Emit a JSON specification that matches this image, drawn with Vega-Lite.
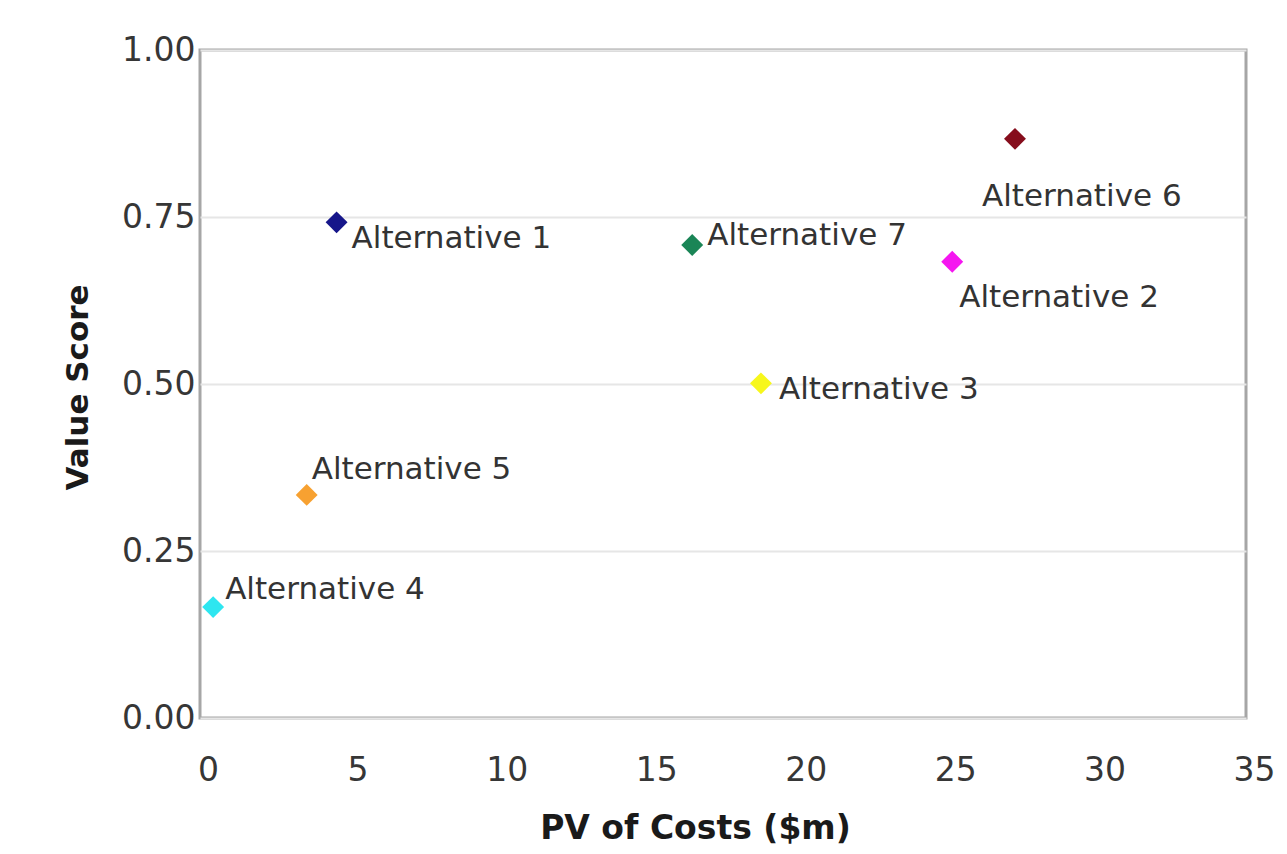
{
  "$schema": "https://vega.github.io/schema/vega-lite/v6.json",
  "autosize": {"type": "none"},
  "width": 1046,
  "height": 668,
  "padding": {"left": 200, "top": 50, "right": 41, "bottom": 136},
  "background": "#ffffff",
  "config": {
    "font": "DejaVu Sans",
    "view": {"stroke": "#a6a6a6", "strokeWidth": 3},
    "axis": {"labelFont": "DejaVu Sans", "titleFont": "DejaVu Sans"}
  },
  "data": {
    "values": [
      {"name": "Alternative 1", "cost": 4.57, "value": 0.742},
      {"name": "Alternative 2", "cost": 25.17, "value": 0.683},
      {"name": "Alternative 3", "cost": 18.77, "value": 0.501},
      {"name": "Alternative 4", "cost": 0.44, "value": 0.166},
      {"name": "Alternative 5", "cost": 3.57, "value": 0.334},
      {"name": "Alternative 6", "cost": 27.27, "value": 0.867},
      {"name": "Alternative 7", "cost": 16.47, "value": 0.708}
    ]
  },
  "encoding": {
    "x": {
      "field": "cost", "type": "quantitative",
      "scale": {"domain": [0, 35], "nice": false, "zero": true},
      "axis": {
        "title": "PV of Costs ($m)",
        "values": [0, 5, 10, 15, 20, 25, 30, 35],
        "format": "d",
        "grid": false, "domain": false, "ticks": false,
        "labelFlush": false, "labelOverlap": false, "labelBound": false,
        "labelPadding": 36, "labelOffset": 8,
        "labelFontSize": 33, "labelColor": "#363636",
        "titleFontSize": 33, "titleFontWeight": "bold", "titleColor": "#1a1a1a",
        "titleX": 495, "titleY": 110, "titleBaseline": "middle", "titleAnchor": "middle", "titleAlign": "center"
      }
    },
    "y": {
      "field": "value", "type": "quantitative",
      "scale": {"domain": [0, 1], "nice": false},
      "axis": {
        "title": "Value Score",
        "values": [0, 0.25, 0.5, 0.75, 1],
        "format": ".2f",
        "grid": true, "gridColor": "#e6e6e6", "gridWidth": 2,
        "domain": false, "ticks": false,
        "labelFlush": false, "labelOverlap": false,
        "labelPadding": 5, "labelFontSize": 33, "labelColor": "#363636",
        "titleFontSize": 31, "titleFontWeight": "bold", "titleColor": "#1a1a1a",
        "titleX": -122, "titleY": 337, "titleBaseline": "middle", "titleAngle": -90, "titleAlign": "center"
      }
    }
  },
  "layer": [
    {
      "mark": {"type": "point", "shape": "diamond", "filled": true, "size": 480, "opacity": 1},
      "encoding": {
        "color": {
          "field": "name", "type": "nominal", "legend": null,
          "scale": {
            "domain": ["Alternative 1", "Alternative 2", "Alternative 3", "Alternative 4", "Alternative 5", "Alternative 6", "Alternative 7"],
            "range": ["#16168a", "#f516f0", "#f7f71c", "#2ee6f0", "#f7a131", "#860d1c", "#1a8556"]
          }
        }
      }
    },
    {
      "transform": [{"filter": "datum.name === 'Alternative 1'"}],
      "mark": {"type": "text", "align": "left", "baseline": "middle", "dx": 15, "dy": 17, "fontSize": 31, "color": "#333333"},
      "encoding": {"text": {"field": "name"}}
    },
    {
      "transform": [{"filter": "datum.name === 'Alternative 7'"}],
      "mark": {"type": "text", "align": "left", "baseline": "middle", "dx": 15, "dy": -9, "fontSize": 31, "color": "#333333"},
      "encoding": {"text": {"field": "name"}}
    },
    {
      "transform": [{"filter": "datum.name === 'Alternative 6'"}],
      "mark": {"type": "text", "align": "left", "baseline": "middle", "dx": -33, "dy": 58, "fontSize": 31, "color": "#333333"},
      "encoding": {"text": {"field": "name"}}
    },
    {
      "transform": [{"filter": "datum.name === 'Alternative 2'"}],
      "mark": {"type": "text", "align": "left", "baseline": "middle", "dx": 7, "dy": 36, "fontSize": 31, "color": "#333333"},
      "encoding": {"text": {"field": "name"}}
    },
    {
      "transform": [{"filter": "datum.name === 'Alternative 3'"}],
      "mark": {"type": "text", "align": "left", "baseline": "middle", "dx": 18, "dy": 7, "fontSize": 31, "color": "#333333"},
      "encoding": {"text": {"field": "name"}}
    },
    {
      "transform": [{"filter": "datum.name === 'Alternative 5'"}],
      "mark": {"type": "text", "align": "left", "baseline": "middle", "dx": 5, "dy": -25, "fontSize": 31, "color": "#333333"},
      "encoding": {"text": {"field": "name"}}
    },
    {
      "transform": [{"filter": "datum.name === 'Alternative 4'"}],
      "mark": {"type": "text", "align": "left", "baseline": "middle", "dx": 12, "dy": -17, "fontSize": 31, "color": "#333333"},
      "encoding": {"text": {"field": "name"}}
    }
  ]
}
